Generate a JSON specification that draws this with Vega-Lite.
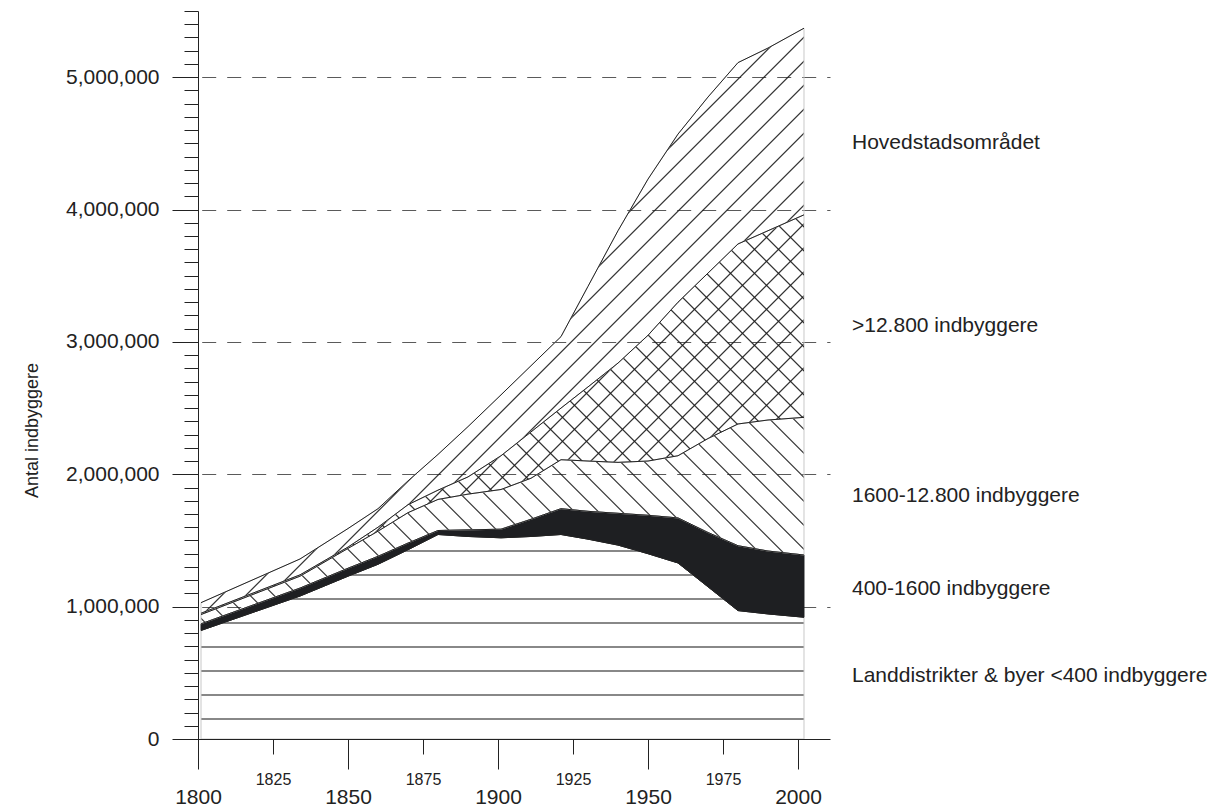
{
"$schema": "https://vega.github.io/schema/vega-lite/v6.json",
"width": 652, "height": 728,
"autosize": {"type": "none"},
"padding": {"left": 178, "top": 11, "right": 394, "bottom": 68},
"background": "white",
"config": {"view": {"stroke": null}, "font": "Liberation Sans"},
"datasets": {
"etiketter": [
{"tekst": "Hovedstadsområdet", "v": 4457000},
{"tekst": ">12.800 indbyggere", "v": 3075000},
{"tekst": "1600-12.800 indbyggere", "v": 1791000},
{"tekst": "400-1600 indbyggere", "v": 1088000},
{"tekst": "Landdistrikter & byer <400 indbyggere", "v": 431000}
]
},
"data": {"values": [
{"aar": 1801, "land": 820000, "by400": 50000, "by1600": 70000, "by12800": 10000, "hoved": 80000},
{"aar": 1834, "land": 1080000, "by400": 60000, "by1600": 90000, "by12800": 10000, "hoved": 120000},
{"aar": 1850, "land": 1230000, "by400": 60000, "by1600": 150000, "by12800": 10000, "hoved": 140000},
{"aar": 1860, "land": 1320000, "by400": 60000, "by1600": 190000, "by12800": 30000, "hoved": 140000},
{"aar": 1870, "land": 1430000, "by400": 50000, "by1600": 230000, "by12800": 60000, "hoved": 180000},
{"aar": 1880, "land": 1545000, "by400": 30000, "by1600": 235000, "by12800": 70000, "hoved": 270000},
{"aar": 1890, "land": 1530000, "by400": 50000, "by1600": 270000, "by12800": 130000, "hoved": 380000},
{"aar": 1901, "land": 1520000, "by400": 65000, "by1600": 300000, "by12800": 255000, "hoved": 460000},
{"aar": 1911, "land": 1530000, "by400": 130000, "by1600": 310000, "by12800": 350000, "hoved": 500000},
{"aar": 1921, "land": 1545000, "by400": 195000, "by1600": 370000, "by12800": 390000, "hoved": 540000},
{"aar": 1930, "land": 1510000, "by400": 210000, "by1600": 380000, "by12800": 560000, "hoved": 760000},
{"aar": 1940, "land": 1465000, "by400": 240000, "by1600": 385000, "by12800": 750000, "hoved": 1000000},
{"aar": 1950, "land": 1400000, "by400": 290000, "by1600": 410000, "by12800": 950000, "hoved": 1180000},
{"aar": 1960, "land": 1330000, "by400": 340000, "by1600": 470000, "by12800": 1160000, "hoved": 1270000},
{"aar": 1970, "land": 1150000, "by400": 410000, "by1600": 710000, "by12800": 1250000, "hoved": 1330000},
{"aar": 1980, "land": 970000, "by400": 490000, "by1600": 920000, "by12800": 1360000, "hoved": 1370000},
{"aar": 1990, "land": 945000, "by400": 475000, "by1600": 990000, "by12800": 1430000, "hoved": 1380000},
{"aar": 2002, "land": 920000, "by400": 470000, "by1600": 1040000, "by12800": 1530000, "hoved": 1410000}
]},
"transform": [
{"fold": ["land", "by400", "by1600", "by12800", "hoved"], "as": ["kategori", "antal"]},
{"calculate": "indexof(['land','by400','by1600','by12800','hoved'], datum.kategori)", "as": "rang"},
{"stack": "antal", "groupby": ["aar"], "sort": [{"field": "rang", "order": "ascending"}], "as": ["y0", "y1"]}
],
"layer": [
{
"transform": [{"filter": "datum.kategori === 'land'"}],
"mark": {"type": "area", "stroke": "#c8c8c8", "strokeWidth": 1,
"fill": {"gradient": "linear", "x1": 0, "y1": 0, "x2": 0, "y2": 1.17359, "stops": [
{"offset": 0, "color": "#ffffff"},
{"offset": 0.06475, "color": "#ffffff"}, {"offset": 0.06475, "color": "#888888"}, {"offset": 0.07275, "color": "#888888"}, {"offset": 0.07275, "color": "#ffffff"},
{"offset": 0.16475, "color": "#ffffff"}, {"offset": 0.16475, "color": "#888888"}, {"offset": 0.17275, "color": "#888888"}, {"offset": 0.17275, "color": "#ffffff"},
{"offset": 0.26475, "color": "#ffffff"}, {"offset": 0.26475, "color": "#888888"}, {"offset": 0.27275, "color": "#888888"}, {"offset": 0.27275, "color": "#ffffff"},
{"offset": 0.36475, "color": "#ffffff"}, {"offset": 0.36475, "color": "#888888"}, {"offset": 0.37275, "color": "#888888"}, {"offset": 0.37275, "color": "#ffffff"},
{"offset": 0.46475, "color": "#ffffff"}, {"offset": 0.46475, "color": "#888888"}, {"offset": 0.47275, "color": "#888888"}, {"offset": 0.47275, "color": "#ffffff"},
{"offset": 0.56475, "color": "#ffffff"}, {"offset": 0.56475, "color": "#888888"}, {"offset": 0.57275, "color": "#888888"}, {"offset": 0.57275, "color": "#ffffff"},
{"offset": 0.66475, "color": "#ffffff"}, {"offset": 0.66475, "color": "#888888"}, {"offset": 0.67275, "color": "#888888"}, {"offset": 0.67275, "color": "#ffffff"},
{"offset": 0.76475, "color": "#ffffff"}, {"offset": 0.76475, "color": "#888888"}, {"offset": 0.77275, "color": "#888888"}, {"offset": 0.77275, "color": "#ffffff"},
{"offset": 1, "color": "#ffffff"}
]}},
"encoding": {
"x": {"field": "aar", "type": "quantitative", "scale": {"domain": [1793.333, 2010.667], "nice": false, "zero": false},
"axis": {"values": [1800, 1825, 1850, 1875, 1900, 1925, 1950, 1975, 2000], "tickCount": 100, "title": null, "format": "d",
"domainColor": "#222222", "tickColor": "#222222", "tickWidth": 1,
"tickSize": {"condition": {"test": "datum.value % 50 === 0", "value": 30}, "value": 15},
"labelFontSize": {"condition": {"test": "datum.value % 50 === 0", "value": 21}, "value": 16},
"labelPadding": 17, "labelColor": "#222222", "labelFlush": false, "labelOverlap": false, "grid": false, "zindex": 1}},
"y": {"field": "y1", "type": "quantitative", "scale": {"domain": [0, 5500000], "nice": false, "zero": false},
"axis": {"values": [0,100000,200000,300000,400000,500000,600000,700000,800000,900000,1000000,1100000,1200000,1300000,1400000,1500000,1600000,1700000,1800000,1900000,2000000,2100000,2200000,2300000,2400000,2500000,2600000,2700000,2800000,2900000,3000000,3100000,3200000,3300000,3400000,3500000,3600000,3700000,3800000,3900000,4000000,4100000,4200000,4300000,4400000,4500000,4600000,4700000,4800000,4900000,5000000,5100000,5200000,5300000,5400000,5500000],
"tickCount": 100,
"offset": -20,
"title": "Antal indbyggere", "titleFontSize": 18, "titleFontWeight": "normal", "titleColor": "#222222",
"titleX": -166, "titleY": 419, "titleAngle": 270, "titleAlign": "center", "titleBaseline": "middle",
"labelExpr": "datum.value % 1000000 === 0 ? format(datum.value, ',') : ''",
"labelFontSize": 21, "labelColor": "#222222", "labelPadding": 13, "labelOverlap": false, "labelFlush": false,
"tickSize": {"condition": {"test": "datum.value % 1000000 === 0", "value": 26}, "value": 14},
"tickColor": "#222222", "domainColor": "#222222",
"grid": true, "gridDash": [14, 11], "gridDashOffset": 1.3, "gridColor": "#5a5a5a", "gridWidth": 1.2,
"gridOpacity": {"condition": {"test": "datum.value % 1000000 === 0 && datum.value > 0", "value": 1}, "value": 0},
"zindex": 0}},
"y2": {"field": "y0"}
}
},
{
"transform": [{"filter": "datum.kategori === 'by400'"}],
"mark": {"type": "area", "fill": "#1e1f22", "stroke": "#1e1f22", "strokeWidth": 1},
"encoding": {
"x": {"field": "aar", "type": "quantitative", "scale": {"domain": [1793.333, 2010.667], "nice": false, "zero": false}},
"y": {"field": "y1", "type": "quantitative", "scale": {"domain": [0, 5500000], "nice": false, "zero": false}},
"y2": {"field": "y0"}
}
},
{
"transform": [{"filter": "datum.kategori === 'by1600'"}],
"mark": {"type": "area", "stroke": "#c8c8c8", "strokeWidth": 1,
"fill": {"gradient": "linear", "x1": 1, "y1": 0, "x2": -0.7812, "y2": 0.60992, "stops": [
{"offset":0.00875,"color":"transparent"},{"offset":0.01,"color":"#222"},{"offset":0.01125,"color":"transparent"},
{"offset":0.02875,"color":"transparent"},{"offset":0.03,"color":"#222"},{"offset":0.03125,"color":"transparent"},
{"offset":0.04875,"color":"transparent"},{"offset":0.05,"color":"#222"},{"offset":0.05125,"color":"transparent"},
{"offset":0.06875,"color":"transparent"},{"offset":0.07,"color":"#222"},{"offset":0.07125,"color":"transparent"},
{"offset":0.08875,"color":"transparent"},{"offset":0.09,"color":"#222"},{"offset":0.09125,"color":"transparent"},
{"offset":0.10875,"color":"transparent"},{"offset":0.11,"color":"#222"},{"offset":0.11125,"color":"transparent"},
{"offset":0.12875,"color":"transparent"},{"offset":0.13,"color":"#222"},{"offset":0.13125,"color":"transparent"},
{"offset":0.14875,"color":"transparent"},{"offset":0.15,"color":"#222"},{"offset":0.15125,"color":"transparent"},
{"offset":0.16875,"color":"transparent"},{"offset":0.17,"color":"#222"},{"offset":0.17125,"color":"transparent"},
{"offset":0.18875,"color":"transparent"},{"offset":0.19,"color":"#222"},{"offset":0.19125,"color":"transparent"},
{"offset":0.20875,"color":"transparent"},{"offset":0.21,"color":"#222"},{"offset":0.21125,"color":"transparent"},
{"offset":0.22875,"color":"transparent"},{"offset":0.23,"color":"#222"},{"offset":0.23125,"color":"transparent"},
{"offset":0.24875,"color":"transparent"},{"offset":0.25,"color":"#222"},{"offset":0.25125,"color":"transparent"},
{"offset":0.26875,"color":"transparent"},{"offset":0.27,"color":"#222"},{"offset":0.27125,"color":"transparent"},
{"offset":0.28875,"color":"transparent"},{"offset":0.29,"color":"#222"},{"offset":0.29125,"color":"transparent"},
{"offset":0.30875,"color":"transparent"},{"offset":0.31,"color":"#222"},{"offset":0.31125,"color":"transparent"},
{"offset":0.32875,"color":"transparent"},{"offset":0.33,"color":"#222"},{"offset":0.33125,"color":"transparent"},
{"offset":0.34875,"color":"transparent"},{"offset":0.35,"color":"#222"},{"offset":0.35125,"color":"transparent"},
{"offset":0.36875,"color":"transparent"},{"offset":0.37,"color":"#222"},{"offset":0.37125,"color":"transparent"},
{"offset":0.38875,"color":"transparent"},{"offset":0.39,"color":"#222"},{"offset":0.39125,"color":"transparent"},
{"offset":0.40875,"color":"transparent"},{"offset":0.41,"color":"#222"},{"offset":0.41125,"color":"transparent"},
{"offset":0.42875,"color":"transparent"},{"offset":0.43,"color":"#222"},{"offset":0.43125,"color":"transparent"},
{"offset":0.44875,"color":"transparent"},{"offset":0.45,"color":"#222"},{"offset":0.45125,"color":"transparent"},
{"offset":0.46875,"color":"transparent"},{"offset":0.47,"color":"#222"},{"offset":0.47125,"color":"transparent"},
{"offset":0.48875,"color":"transparent"},{"offset":0.49,"color":"#222"},{"offset":0.49125,"color":"transparent"},
{"offset":0.50875,"color":"transparent"},{"offset":0.51,"color":"#222"},{"offset":0.51125,"color":"transparent"},
{"offset":0.52875,"color":"transparent"},{"offset":0.53,"color":"#222"},{"offset":0.53125,"color":"transparent"},
{"offset":0.54875,"color":"transparent"},{"offset":0.55,"color":"#222"},{"offset":0.55125,"color":"transparent"},
{"offset":0.56875,"color":"transparent"},{"offset":0.57,"color":"#222"},{"offset":0.57125,"color":"transparent"},
{"offset":0.58875,"color":"transparent"},{"offset":0.59,"color":"#222"},{"offset":0.59125,"color":"transparent"},
{"offset":0.60875,"color":"transparent"},{"offset":0.61,"color":"#222"},{"offset":0.61125,"color":"transparent"},
{"offset":0.62875,"color":"transparent"},{"offset":0.63,"color":"#222"},{"offset":0.63125,"color":"transparent"},
{"offset":0.64875,"color":"transparent"},{"offset":0.65,"color":"#222"},{"offset":0.65125,"color":"transparent"},
{"offset":0.66875,"color":"transparent"},{"offset":0.67,"color":"#222"},{"offset":0.67125,"color":"transparent"},
{"offset":0.68875,"color":"transparent"},{"offset":0.69,"color":"#222"},{"offset":0.69125,"color":"transparent"}
]}},
"encoding": {
"x": {"field": "aar", "type": "quantitative", "scale": {"domain": [1793.333, 2010.667], "nice": false, "zero": false}},
"y": {"field": "y1", "type": "quantitative", "scale": {"domain": [0, 5500000], "nice": false, "zero": false}},
"y2": {"field": "y0"}
}
},
{
"transform": [{"filter": "datum.kategori === 'by12800'"}],
"mark": {"type": "area", "stroke": "#c8c8c8", "strokeWidth": 1,
"fill": {"gradient": "linear", "x1": 0, "y1": 0, "x2": 1.3825, "y2": 0.91648, "stops": [
{"offset":0.00875,"color":"transparent"},{"offset":0.01,"color":"#222"},{"offset":0.01125,"color":"transparent"},
{"offset":0.02875,"color":"transparent"},{"offset":0.03,"color":"#222"},{"offset":0.03125,"color":"transparent"},
{"offset":0.04875,"color":"transparent"},{"offset":0.05,"color":"#222"},{"offset":0.05125,"color":"transparent"},
{"offset":0.06875,"color":"transparent"},{"offset":0.07,"color":"#222"},{"offset":0.07125,"color":"transparent"},
{"offset":0.08875,"color":"transparent"},{"offset":0.09,"color":"#222"},{"offset":0.09125,"color":"transparent"},
{"offset":0.10875,"color":"transparent"},{"offset":0.11,"color":"#222"},{"offset":0.11125,"color":"transparent"},
{"offset":0.12875,"color":"transparent"},{"offset":0.13,"color":"#222"},{"offset":0.13125,"color":"transparent"},
{"offset":0.14875,"color":"transparent"},{"offset":0.15,"color":"#222"},{"offset":0.15125,"color":"transparent"},
{"offset":0.16875,"color":"transparent"},{"offset":0.17,"color":"#222"},{"offset":0.17125,"color":"transparent"},
{"offset":0.18875,"color":"transparent"},{"offset":0.19,"color":"#222"},{"offset":0.19125,"color":"transparent"},
{"offset":0.20875,"color":"transparent"},{"offset":0.21,"color":"#222"},{"offset":0.21125,"color":"transparent"},
{"offset":0.22875,"color":"transparent"},{"offset":0.23,"color":"#222"},{"offset":0.23125,"color":"transparent"},
{"offset":0.24875,"color":"transparent"},{"offset":0.25,"color":"#222"},{"offset":0.25125,"color":"transparent"},
{"offset":0.26875,"color":"transparent"},{"offset":0.27,"color":"#222"},{"offset":0.27125,"color":"transparent"},
{"offset":0.28875,"color":"transparent"},{"offset":0.29,"color":"#222"},{"offset":0.29125,"color":"transparent"},
{"offset":0.30875,"color":"transparent"},{"offset":0.31,"color":"#222"},{"offset":0.31125,"color":"transparent"},
{"offset":0.32875,"color":"transparent"},{"offset":0.33,"color":"#222"},{"offset":0.33125,"color":"transparent"},
{"offset":0.34875,"color":"transparent"},{"offset":0.35,"color":"#222"},{"offset":0.35125,"color":"transparent"},
{"offset":0.36875,"color":"transparent"},{"offset":0.37,"color":"#222"},{"offset":0.37125,"color":"transparent"},
{"offset":0.38875,"color":"transparent"},{"offset":0.39,"color":"#222"},{"offset":0.39125,"color":"transparent"},
{"offset":0.40875,"color":"transparent"},{"offset":0.41,"color":"#222"},{"offset":0.41125,"color":"transparent"},
{"offset":0.42875,"color":"transparent"},{"offset":0.43,"color":"#222"},{"offset":0.43125,"color":"transparent"},
{"offset":0.44875,"color":"transparent"},{"offset":0.45,"color":"#222"},{"offset":0.45125,"color":"transparent"},
{"offset":0.46875,"color":"transparent"},{"offset":0.47,"color":"#222"},{"offset":0.47125,"color":"transparent"},
{"offset":0.48875,"color":"transparent"},{"offset":0.49,"color":"#222"},{"offset":0.49125,"color":"transparent"},
{"offset":0.50875,"color":"transparent"},{"offset":0.51,"color":"#222"},{"offset":0.51125,"color":"transparent"},
{"offset":0.52875,"color":"transparent"},{"offset":0.53,"color":"#222"},{"offset":0.53125,"color":"transparent"},
{"offset":0.54875,"color":"transparent"},{"offset":0.55,"color":"#222"},{"offset":0.55125,"color":"transparent"},
{"offset":0.56875,"color":"transparent"},{"offset":0.57,"color":"#222"},{"offset":0.57125,"color":"transparent"},
{"offset":0.58875,"color":"transparent"},{"offset":0.59,"color":"#222"},{"offset":0.59125,"color":"transparent"},
{"offset":0.60875,"color":"transparent"},{"offset":0.61,"color":"#222"},{"offset":0.61125,"color":"transparent"},
{"offset":0.62875,"color":"transparent"},{"offset":0.63,"color":"#222"},{"offset":0.63125,"color":"transparent"},
{"offset":0.64875,"color":"transparent"},{"offset":0.65,"color":"#222"},{"offset":0.65125,"color":"transparent"},
{"offset":0.66875,"color":"transparent"},{"offset":0.67,"color":"#222"},{"offset":0.67125,"color":"transparent"},
{"offset":0.68875,"color":"transparent"},{"offset":0.69,"color":"#222"},{"offset":0.69125,"color":"transparent"},
{"offset":0.70875,"color":"transparent"},{"offset":0.71,"color":"#222"},{"offset":0.71125,"color":"transparent"},
{"offset":0.72875,"color":"transparent"},{"offset":0.73,"color":"#222"},{"offset":0.73125,"color":"transparent"},
{"offset":0.74875,"color":"transparent"},{"offset":0.75,"color":"#222"},{"offset":0.75125,"color":"transparent"},
{"offset":0.76875,"color":"transparent"},{"offset":0.77,"color":"#222"},{"offset":0.77125,"color":"transparent"},
{"offset":0.78875,"color":"transparent"},{"offset":0.79,"color":"#222"},{"offset":0.79125,"color":"transparent"},
{"offset":0.80875,"color":"transparent"},{"offset":0.81,"color":"#222"},{"offset":0.81125,"color":"transparent"},
{"offset":0.82875,"color":"transparent"},{"offset":0.83,"color":"#222"},{"offset":0.83125,"color":"transparent"},
{"offset":0.84875,"color":"transparent"},{"offset":0.85,"color":"#222"},{"offset":0.85125,"color":"transparent"}
]}},
"encoding": {
"x": {"field": "aar", "type": "quantitative", "scale": {"domain": [1793.333, 2010.667], "nice": false, "zero": false}},
"y": {"field": "y1", "type": "quantitative", "scale": {"domain": [0, 5500000], "nice": false, "zero": false}},
"y2": {"field": "y0"}
}
},
{
"transform": [{"filter": "datum.kategori === 'by12800'"}],
"mark": {"type": "area",
"fill": {"gradient": "linear", "x1": 1, "y1": 0, "x2": -0.3825, "y2": 0.91648, "stops": [
{"offset":0.00875,"color":"transparent"},{"offset":0.01,"color":"#222"},{"offset":0.01125,"color":"transparent"},
{"offset":0.02875,"color":"transparent"},{"offset":0.03,"color":"#222"},{"offset":0.03125,"color":"transparent"},
{"offset":0.04875,"color":"transparent"},{"offset":0.05,"color":"#222"},{"offset":0.05125,"color":"transparent"},
{"offset":0.06875,"color":"transparent"},{"offset":0.07,"color":"#222"},{"offset":0.07125,"color":"transparent"},
{"offset":0.08875,"color":"transparent"},{"offset":0.09,"color":"#222"},{"offset":0.09125,"color":"transparent"},
{"offset":0.10875,"color":"transparent"},{"offset":0.11,"color":"#222"},{"offset":0.11125,"color":"transparent"},
{"offset":0.12875,"color":"transparent"},{"offset":0.13,"color":"#222"},{"offset":0.13125,"color":"transparent"},
{"offset":0.14875,"color":"transparent"},{"offset":0.15,"color":"#222"},{"offset":0.15125,"color":"transparent"},
{"offset":0.16875,"color":"transparent"},{"offset":0.17,"color":"#222"},{"offset":0.17125,"color":"transparent"},
{"offset":0.18875,"color":"transparent"},{"offset":0.19,"color":"#222"},{"offset":0.19125,"color":"transparent"},
{"offset":0.20875,"color":"transparent"},{"offset":0.21,"color":"#222"},{"offset":0.21125,"color":"transparent"},
{"offset":0.22875,"color":"transparent"},{"offset":0.23,"color":"#222"},{"offset":0.23125,"color":"transparent"},
{"offset":0.24875,"color":"transparent"},{"offset":0.25,"color":"#222"},{"offset":0.25125,"color":"transparent"},
{"offset":0.26875,"color":"transparent"},{"offset":0.27,"color":"#222"},{"offset":0.27125,"color":"transparent"},
{"offset":0.28875,"color":"transparent"},{"offset":0.29,"color":"#222"},{"offset":0.29125,"color":"transparent"},
{"offset":0.30875,"color":"transparent"},{"offset":0.31,"color":"#222"},{"offset":0.31125,"color":"transparent"},
{"offset":0.32875,"color":"transparent"},{"offset":0.33,"color":"#222"},{"offset":0.33125,"color":"transparent"},
{"offset":0.34875,"color":"transparent"},{"offset":0.35,"color":"#222"},{"offset":0.35125,"color":"transparent"},
{"offset":0.36875,"color":"transparent"},{"offset":0.37,"color":"#222"},{"offset":0.37125,"color":"transparent"},
{"offset":0.38875,"color":"transparent"},{"offset":0.39,"color":"#222"},{"offset":0.39125,"color":"transparent"},
{"offset":0.40875,"color":"transparent"},{"offset":0.41,"color":"#222"},{"offset":0.41125,"color":"transparent"},
{"offset":0.42875,"color":"transparent"},{"offset":0.43,"color":"#222"},{"offset":0.43125,"color":"transparent"},
{"offset":0.44875,"color":"transparent"},{"offset":0.45,"color":"#222"},{"offset":0.45125,"color":"transparent"},
{"offset":0.46875,"color":"transparent"},{"offset":0.47,"color":"#222"},{"offset":0.47125,"color":"transparent"},
{"offset":0.48875,"color":"transparent"},{"offset":0.49,"color":"#222"},{"offset":0.49125,"color":"transparent"},
{"offset":0.50875,"color":"transparent"},{"offset":0.51,"color":"#222"},{"offset":0.51125,"color":"transparent"},
{"offset":0.52875,"color":"transparent"},{"offset":0.53,"color":"#222"},{"offset":0.53125,"color":"transparent"},
{"offset":0.54875,"color":"transparent"},{"offset":0.55,"color":"#222"},{"offset":0.55125,"color":"transparent"},
{"offset":0.56875,"color":"transparent"},{"offset":0.57,"color":"#222"},{"offset":0.57125,"color":"transparent"},
{"offset":0.58875,"color":"transparent"},{"offset":0.59,"color":"#222"},{"offset":0.59125,"color":"transparent"},
{"offset":0.60875,"color":"transparent"},{"offset":0.61,"color":"#222"},{"offset":0.61125,"color":"transparent"},
{"offset":0.62875,"color":"transparent"},{"offset":0.63,"color":"#222"},{"offset":0.63125,"color":"transparent"},
{"offset":0.64875,"color":"transparent"},{"offset":0.65,"color":"#222"},{"offset":0.65125,"color":"transparent"},
{"offset":0.66875,"color":"transparent"},{"offset":0.67,"color":"#222"},{"offset":0.67125,"color":"transparent"},
{"offset":0.68875,"color":"transparent"},{"offset":0.69,"color":"#222"},{"offset":0.69125,"color":"transparent"},
{"offset":0.70875,"color":"transparent"},{"offset":0.71,"color":"#222"},{"offset":0.71125,"color":"transparent"},
{"offset":0.72875,"color":"transparent"},{"offset":0.73,"color":"#222"},{"offset":0.73125,"color":"transparent"},
{"offset":0.74875,"color":"transparent"},{"offset":0.75,"color":"#222"},{"offset":0.75125,"color":"transparent"},
{"offset":0.76875,"color":"transparent"},{"offset":0.77,"color":"#222"},{"offset":0.77125,"color":"transparent"},
{"offset":0.78875,"color":"transparent"},{"offset":0.79,"color":"#222"},{"offset":0.79125,"color":"transparent"},
{"offset":0.80875,"color":"transparent"},{"offset":0.81,"color":"#222"},{"offset":0.81125,"color":"transparent"},
{"offset":0.82875,"color":"transparent"},{"offset":0.83,"color":"#222"},{"offset":0.83125,"color":"transparent"},
{"offset":0.84875,"color":"transparent"},{"offset":0.85,"color":"#222"},{"offset":0.85125,"color":"transparent"}
]}},
"encoding": {
"x": {"field": "aar", "type": "quantitative", "scale": {"domain": [1793.333, 2010.667], "nice": false, "zero": false}},
"y": {"field": "y1", "type": "quantitative", "scale": {"domain": [0, 5500000], "nice": false, "zero": false}},
"y2": {"field": "y0"}
}
},
{
"transform": [{"filter": "datum.kategori === 'hoved'"}],
"mark": {"type": "area", "stroke": "#c8c8c8", "strokeWidth": 1,
"fill": {"gradient": "linear", "x1": 0, "y1": 0, "x2": 1.0251, "y2": 0.99457, "stops": [
{"offset":0.00875,"color":"transparent"},{"offset":0.01,"color":"#222"},{"offset":0.01125,"color":"transparent"},
{"offset":0.02875,"color":"transparent"},{"offset":0.03,"color":"#222"},{"offset":0.03125,"color":"transparent"},
{"offset":0.04875,"color":"transparent"},{"offset":0.05,"color":"#222"},{"offset":0.05125,"color":"transparent"},
{"offset":0.06875,"color":"transparent"},{"offset":0.07,"color":"#222"},{"offset":0.07125,"color":"transparent"},
{"offset":0.08875,"color":"transparent"},{"offset":0.09,"color":"#222"},{"offset":0.09125,"color":"transparent"},
{"offset":0.10875,"color":"transparent"},{"offset":0.11,"color":"#222"},{"offset":0.11125,"color":"transparent"},
{"offset":0.12875,"color":"transparent"},{"offset":0.13,"color":"#222"},{"offset":0.13125,"color":"transparent"},
{"offset":0.14875,"color":"transparent"},{"offset":0.15,"color":"#222"},{"offset":0.15125,"color":"transparent"},
{"offset":0.16875,"color":"transparent"},{"offset":0.17,"color":"#222"},{"offset":0.17125,"color":"transparent"},
{"offset":0.18875,"color":"transparent"},{"offset":0.19,"color":"#222"},{"offset":0.19125,"color":"transparent"},
{"offset":0.20875,"color":"transparent"},{"offset":0.21,"color":"#222"},{"offset":0.21125,"color":"transparent"},
{"offset":0.22875,"color":"transparent"},{"offset":0.23,"color":"#222"},{"offset":0.23125,"color":"transparent"},
{"offset":0.24875,"color":"transparent"},{"offset":0.25,"color":"#222"},{"offset":0.25125,"color":"transparent"},
{"offset":0.26875,"color":"transparent"},{"offset":0.27,"color":"#222"},{"offset":0.27125,"color":"transparent"},
{"offset":0.28875,"color":"transparent"},{"offset":0.29,"color":"#222"},{"offset":0.29125,"color":"transparent"},
{"offset":0.30875,"color":"transparent"},{"offset":0.31,"color":"#222"},{"offset":0.31125,"color":"transparent"},
{"offset":0.32875,"color":"transparent"},{"offset":0.33,"color":"#222"},{"offset":0.33125,"color":"transparent"},
{"offset":0.34875,"color":"transparent"},{"offset":0.35,"color":"#222"},{"offset":0.35125,"color":"transparent"},
{"offset":0.36875,"color":"transparent"},{"offset":0.37,"color":"#222"},{"offset":0.37125,"color":"transparent"},
{"offset":0.38875,"color":"transparent"},{"offset":0.39,"color":"#222"},{"offset":0.39125,"color":"transparent"},
{"offset":0.40875,"color":"transparent"},{"offset":0.41,"color":"#222"},{"offset":0.41125,"color":"transparent"},
{"offset":0.42875,"color":"transparent"},{"offset":0.43,"color":"#222"},{"offset":0.43125,"color":"transparent"},
{"offset":0.44875,"color":"transparent"},{"offset":0.45,"color":"#222"},{"offset":0.45125,"color":"transparent"},
{"offset":0.46875,"color":"transparent"},{"offset":0.47,"color":"#222"},{"offset":0.47125,"color":"transparent"},
{"offset":0.48875,"color":"transparent"},{"offset":0.49,"color":"#222"},{"offset":0.49125,"color":"transparent"},
{"offset":0.50875,"color":"transparent"},{"offset":0.51,"color":"#222"},{"offset":0.51125,"color":"transparent"},
{"offset":0.52875,"color":"transparent"},{"offset":0.53,"color":"#222"},{"offset":0.53125,"color":"transparent"},
{"offset":0.54875,"color":"transparent"},{"offset":0.55,"color":"#222"},{"offset":0.55125,"color":"transparent"},
{"offset":0.56875,"color":"transparent"},{"offset":0.57,"color":"#222"},{"offset":0.57125,"color":"transparent"},
{"offset":0.58875,"color":"transparent"},{"offset":0.59,"color":"#222"},{"offset":0.59125,"color":"transparent"},
{"offset":0.60875,"color":"transparent"},{"offset":0.61,"color":"#222"},{"offset":0.61125,"color":"transparent"},
{"offset":0.62875,"color":"transparent"},{"offset":0.63,"color":"#222"},{"offset":0.63125,"color":"transparent"},
{"offset":0.64875,"color":"transparent"},{"offset":0.65,"color":"#222"},{"offset":0.65125,"color":"transparent"},
{"offset":0.66875,"color":"transparent"},{"offset":0.67,"color":"#222"},{"offset":0.67125,"color":"transparent"},
{"offset":0.68875,"color":"transparent"},{"offset":0.69,"color":"#222"},{"offset":0.69125,"color":"transparent"},
{"offset":0.70875,"color":"transparent"},{"offset":0.71,"color":"#222"},{"offset":0.71125,"color":"transparent"},
{"offset":0.72875,"color":"transparent"},{"offset":0.73,"color":"#222"},{"offset":0.73125,"color":"transparent"},
{"offset":0.74875,"color":"transparent"},{"offset":0.75,"color":"#222"},{"offset":0.75125,"color":"transparent"},
{"offset":0.76875,"color":"transparent"},{"offset":0.77,"color":"#222"},{"offset":0.77125,"color":"transparent"},
{"offset":0.78875,"color":"transparent"},{"offset":0.79,"color":"#222"},{"offset":0.79125,"color":"transparent"},
{"offset":0.80875,"color":"transparent"},{"offset":0.81,"color":"#222"},{"offset":0.81125,"color":"transparent"},
{"offset":0.82875,"color":"transparent"},{"offset":0.83,"color":"#222"},{"offset":0.83125,"color":"transparent"},
{"offset":0.84875,"color":"transparent"},{"offset":0.85,"color":"#222"},{"offset":0.85125,"color":"transparent"},
{"offset":0.86875,"color":"transparent"},{"offset":0.87,"color":"#222"},{"offset":0.87125,"color":"transparent"},
{"offset":0.88875,"color":"transparent"},{"offset":0.89,"color":"#222"},{"offset":0.89125,"color":"transparent"},
{"offset":0.90875,"color":"transparent"},{"offset":0.91,"color":"#222"},{"offset":0.91125,"color":"transparent"},
{"offset":0.92875,"color":"transparent"},{"offset":0.93,"color":"#222"},{"offset":0.93125,"color":"transparent"},
{"offset":0.94875,"color":"transparent"},{"offset":0.95,"color":"#222"},{"offset":0.95125,"color":"transparent"},
{"offset":0.96875,"color":"transparent"},{"offset":0.97,"color":"#222"},{"offset":0.97125,"color":"transparent"},
{"offset":0.98875,"color":"transparent"},{"offset":0.99,"color":"#222"},{"offset":0.99125,"color":"transparent"}
]}},
"encoding": {
"x": {"field": "aar", "type": "quantitative", "scale": {"domain": [1793.333, 2010.667], "nice": false, "zero": false}},
"y": {"field": "y1", "type": "quantitative", "scale": {"domain": [0, 5500000], "nice": false, "zero": false}},
"y2": {"field": "y0"}
}
},
{
"mark": {"type": "line", "stroke": "#222222", "strokeWidth": 1},
"encoding": {
"x": {"field": "aar", "type": "quantitative", "scale": {"domain": [1793.333, 2010.667], "nice": false, "zero": false}},
"y": {"field": "y1", "type": "quantitative", "scale": {"domain": [0, 5500000], "nice": false, "zero": false}},
"detail": {"field": "kategori", "type": "nominal"}
}
},
{
"data": {"name": "etiketter"},
"mark": {"type": "text", "align": "left", "baseline": "alphabetic", "fontSize": 21, "font": "Liberation Sans", "fill": "#222222"},
"encoding": {
"x": {"datum": 2018, "type": "quantitative", "scale": {"domain": [1793.333, 2010.667], "nice": false, "zero": false}},
"y": {"field": "v", "type": "quantitative", "scale": {"domain": [0, 5500000], "nice": false, "zero": false}},
"text": {"field": "tekst", "type": "nominal"}
}
}
]
}
